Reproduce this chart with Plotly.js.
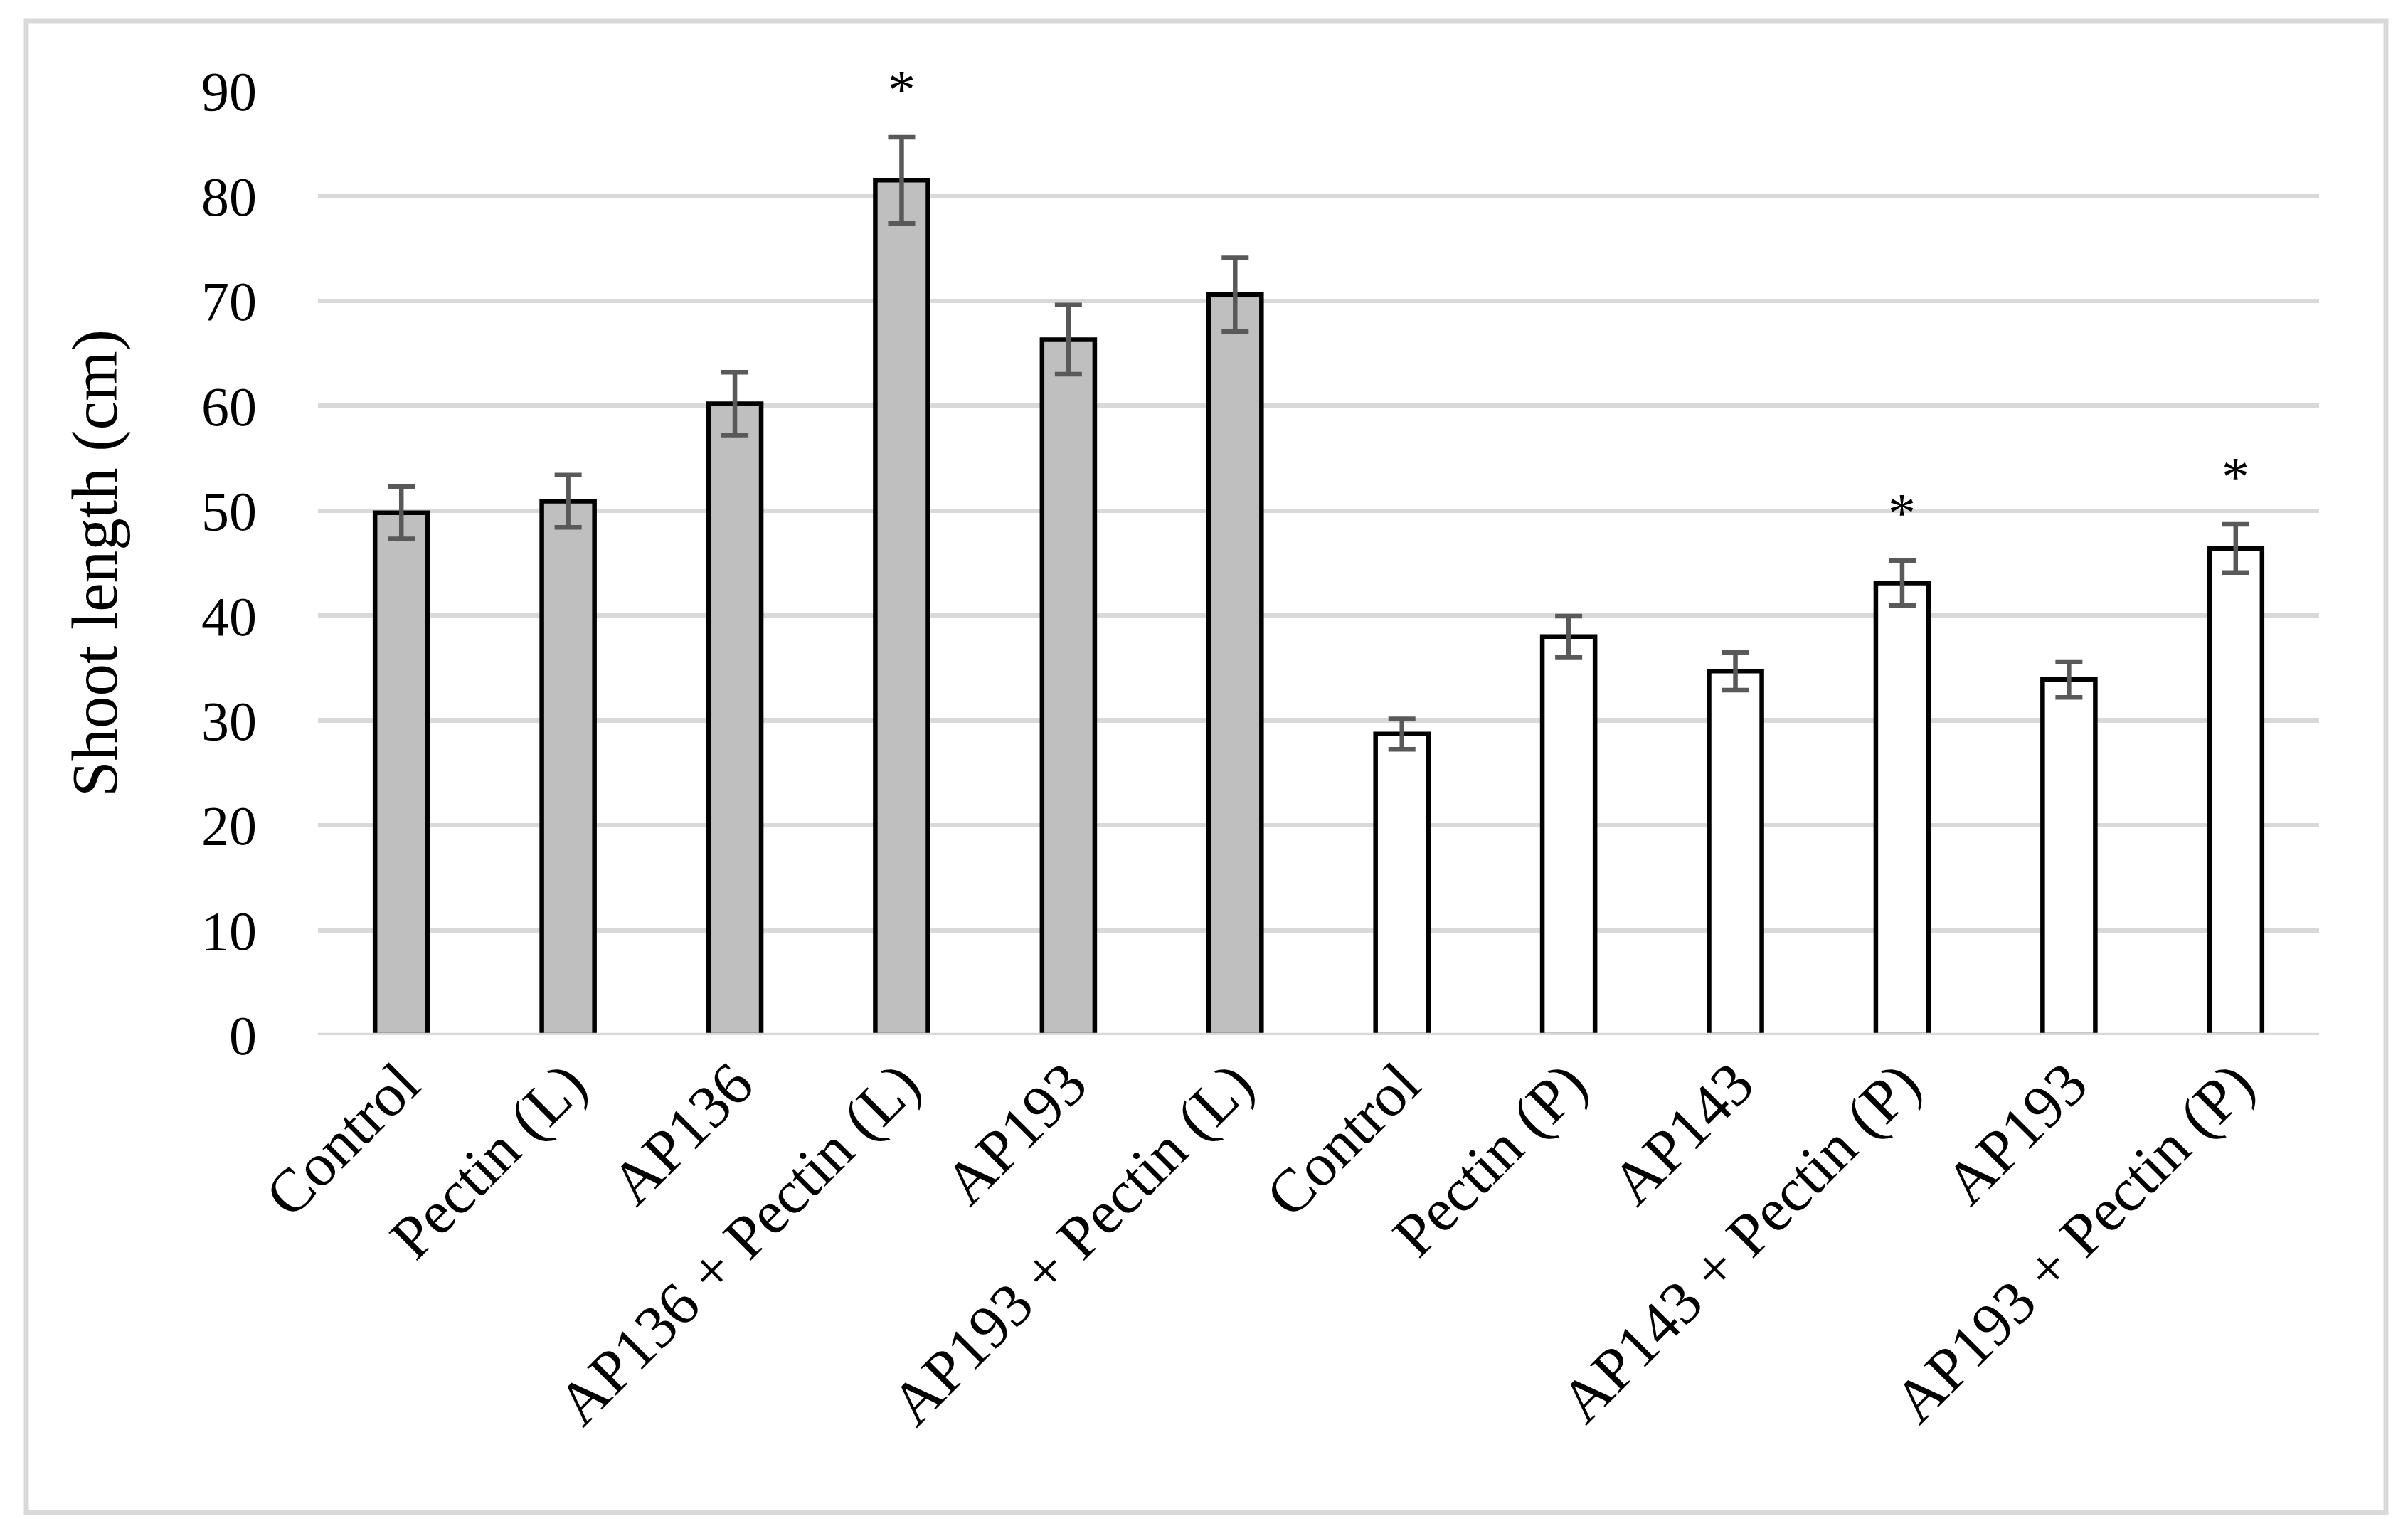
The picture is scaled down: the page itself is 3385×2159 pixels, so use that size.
<!DOCTYPE html>
<html>
<head>
<meta charset="utf-8">
<script src="https://cdn.plot.ly/plotly-3.0.1.min.js"></script>
<style>
  html, body { margin: 0; padding: 0; background: #ffffff; }
  #chart { width: 3385px; height: 2159px; }
</style>
</head>
<body>
<div id="chart"></div>
<script>
// ---- data ----
const categories = ["Control", "Pectin (L)", "AP136", "AP136 + Pectin (L)", "AP193", "AP193 + Pectin (L)",
                    "Control", "Pectin (P)", "AP143", "AP143 + Pectin (P)", "AP193", "AP193 + Pectin (P)"];
const groups = ["L", "L", "L", "L", "L", "L", "P", "P", "P", "P", "P", "P"];
const shootLength = [49.8, 50.9, 60.2, 81.5, 66.3, 70.6, 28.7, 38.0, 34.7, 43.1, 33.9, 46.4];
const stdError    = [2.5, 2.5, 3.0, 4.1, 3.3, 3.5, 1.45, 1.95, 1.8, 2.15, 1.7, 2.3];
const significant = [false, false, false, true, false, false, false, false, false, true, false, true];
const yTicks = [0, 10, 20, 30, 40, 50, 60, 70, 80, 90];

// ---- styling ----
const FONT = "'Liberation Serif', 'Times New Roman', serif";
const groupFill = { L: "#bfbfbf", P: "#ffffff" };
const positions = categories.map((c, i) => i);

const barTrace = {
  type: "bar",
  x: positions,
  y: shootLength,
  marker: {
    color: groups.map(g => groupFill[g]),
    line: { color: "#000000", width: 6.5 }
  },
  error_y: {
    type: "data",
    array: stdError,
    visible: true,
    color: "#595959",
    thickness: 6.5,
    width: 19
  },
  hoverinfo: "x+y"
};

const starAnnotations = positions
  .filter(i => significant[i])
  .map(i => ({
    x: i,
    y: shootLength[i] + stdError[i],
    xref: "x",
    yref: "y",
    text: "*",
    showarrow: false,
    yanchor: "bottom",
    yshift: 22,
    font: { family: FONT, size: 78, color: "#000000" }
  }));

// plot area in pixels: x 447..3260, y 127.5..1455
const L = 447, R = 3260, T = 127.5, B = 1455;
const W = 3385, H = 2159;
const px2x = p => (p - L) / (R - L);
const px2y = p => (B - p) / (B - T);

const layout = {
  width: W,
  height: H,
  autosize: false,
  paper_bgcolor: "#ffffff",
  plot_bgcolor: "#ffffff",
  margin: { l: L, r: W - R, t: T, b: H - B, pad: 0 },
  showlegend: false,
  bargap: 0.684,
  font: { family: FONT, color: "#000000" },
  xaxis: {
    tickmode: "array",
    tickvals: positions,
    ticktext: categories,
    tickangle: -45,
    range: [-0.5, 11.5],
    showgrid: false,
    zeroline: false,
    showline: false,
    ticks: "",
    tickfont: { family: FONT, size: 86, color: "#000000" },
    automargin: false
  },
  yaxis: {
    range: [0, 90],
    tickmode: "array",
    tickvals: yTicks,
    ticks: "",
    showgrid: true,
    gridcolor: "#d9d9d9",
    gridwidth: 6.5,
    zeroline: false,
    showline: false,
    tickfont: { family: FONT, size: 78, color: "#000000" },
    ticklabelstandoff: 85,
    automargin: false,
    title: {
      text: "Shoot length (cm)",
      font: { family: FONT, size: 91, color: "#000000" },
      standoff: 88
    }
  },
  annotations: starAnnotations,
  shapes: [
    { // baseline at zero, drawn over the bar outlines like the reference
      type: "line", xref: "paper", yref: "y", x0: 0, x1: 1, y0: 0, y1: 0,
      line: { color: "#d9d9d9", width: 6.5 }, layer: "above"
    },
    { // chart frame
      type: "rect", xref: "paper", yref: "paper",
      x0: px2x(37), x1: px2x(3354), y0: px2y(2126), y1: px2y(29.5),
      line: { color: "#d9d9d9", width: 7 }, fillcolor: "rgba(0,0,0,0)", layer: "below"
    }
  ]
};

Plotly.newPlot("chart", [barTrace], layout, { displayModeBar: false, staticPlot: true });
</script>
</body>
</html>
